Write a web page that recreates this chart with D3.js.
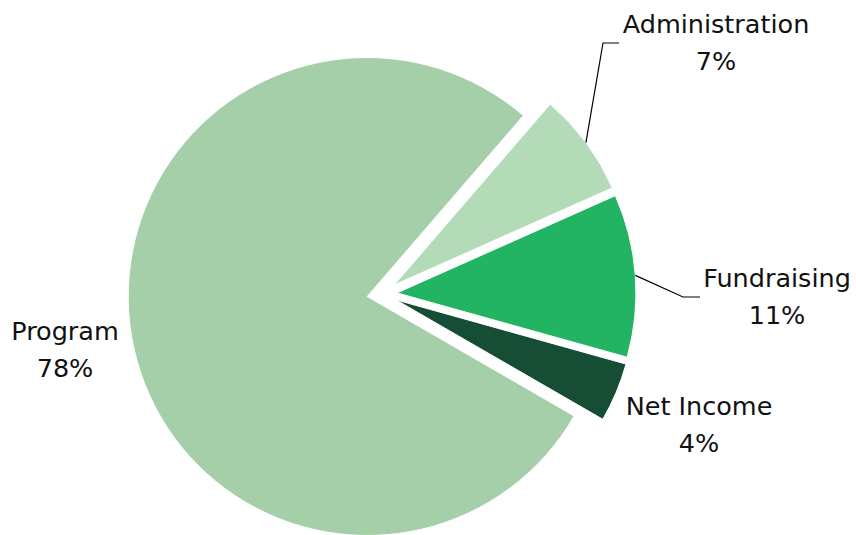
<!DOCTYPE html>
<html>
<head>
<meta charset="utf-8">
<script src="https://cdn.jsdelivr.net/npm/d3@7"></script>
<style>
  body { margin: 0; background: #fff; }
  text { font-family: "DejaVu Sans", sans-serif; font-size: 25.5px; fill: #111; }
</style>
</head>
<body>
<div id="chart"></div>
<script>
// data
var categories = ['Administration', 'Fundraising', 'Net Income', 'Program'];
var values = [7, 11, 4, 78];
var colors = ['#b3dbb8', '#22b363', '#154d35', '#a5cfa9'];

var width = 856,
    height = 535,
    radius = 239,
    explode = 15,
    cx = 382,
    cy = 294;

// label layout: anchor x, first baseline y, optional leader elbow
var labelLayout = {
    'Administration': { x: 716, y: 33, elbow: [603, 43], end: [619, 43] },
    'Fundraising':    { x: 777, y: 287, elbow: [683, 297], end: [700, 297] },
    'Net Income':     { x: 699, y: 415 },
    'Program':        { x: 65,  y: 340 }
};

var table = categories.map(function(c, i) {
    return { name: c, value: values[i], color: colors[i] };
});

var svg = d3.select('#chart').append('svg')
    .attr('width', width)
    .attr('height', height);

var pie = d3.pie()
    .sort(null)
    .value(function(d) { return d.value; })
    .startAngle(40.8 * Math.PI / 180)
    .endAngle(40.8 * Math.PI / 180 + 2 * Math.PI);

var arc = d3.arc().innerRadius(0).outerRadius(radius);

var arcs = pie(table);

function offset(d) {
    var a = (d.startAngle + d.endAngle) / 2;
    return [Math.sin(a) * explode, -Math.cos(a) * explode];
}

var g = svg.append('g').attr('transform', 'translate(' + cx + ',' + cy + ')');

g.selectAll('path.slice')
    .data(arcs)
    .enter().append('path')
    .attr('class', 'slice')
    .attr('transform', function(d) { var o = offset(d); return 'translate(' + o[0] + ',' + o[1] + ')'; })
    .attr('d', arc)
    .attr('fill', function(d) { return d.data.color; })
    .attr('stroke', '#fff')
    .attr('stroke-width', 1);

// leader lines
arcs.forEach(function(d) {
    var lay = labelLayout[d.data.name];
    if (!lay.elbow) return;
    var o = offset(d);
    var a = (d.startAngle + d.endAngle) / 2;
    var sx = cx + o[0] + Math.sin(a) * radius,
        sy = cy + o[1] - Math.cos(a) * radius;
    svg.append('polyline')
        .attr('points', [[sx, sy], lay.elbow, lay.end].map(function(p) { return p.join(','); }).join(' '))
        .attr('fill', 'none')
        .attr('stroke', '#000')
        .attr('stroke-width', 1.2);
});

// labels
arcs.forEach(function(d) {
    var lay = labelLayout[d.data.name];
    var t = svg.append('text')
        .attr('text-anchor', 'middle');
    t.append('tspan').attr('x', lay.x).attr('y', lay.y).text(d.data.name);
    t.append('tspan').attr('x', lay.x).attr('y', lay.y + 37).text(d.data.value + '%');
});
</script>
</body>
</html>
